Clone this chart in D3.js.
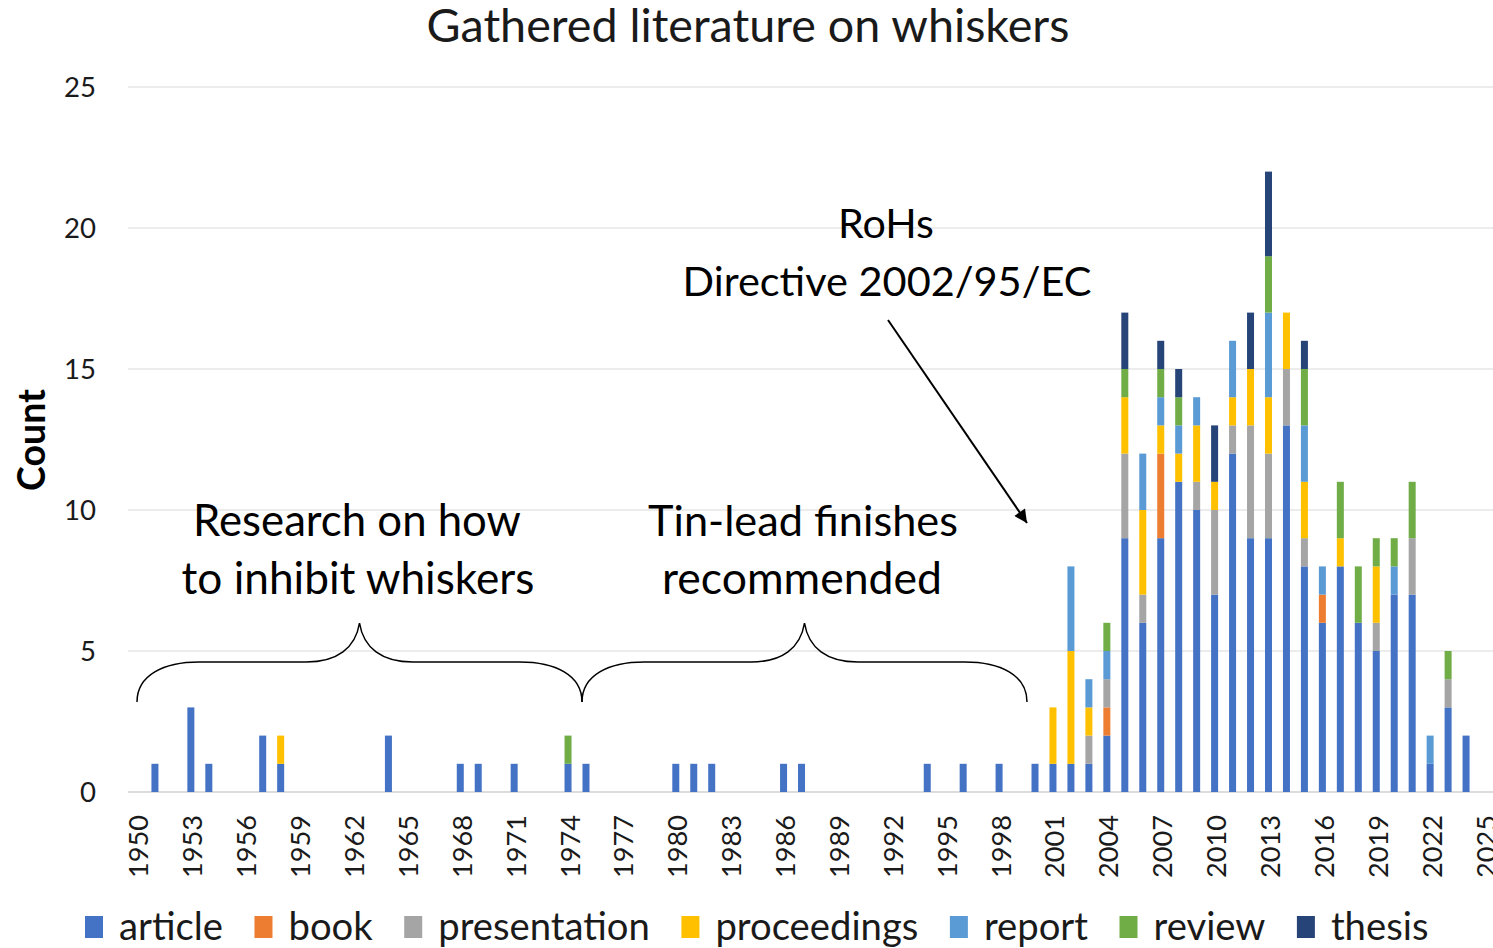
<!DOCTYPE html>
<html>
<head>
<meta charset="utf-8">
<script src="https://cdn.jsdelivr.net/npm/d3@7"></script>
<style>
  html, body { margin: 0; padding: 0; background: #fff; }
  svg { display: block; font-family: Lato, "Open Sans", sans-serif; }
</style>
</head>
<body>
<svg id="chart" width="1493" height="948"></svg>
<script>
// ---- categories ----
const years = d3.range(1950, 2026);
const seriesNames = ["article", "book", "presentation", "proceedings", "report", "review", "thesis"];
const seriesColors = ["#4472C4", "#ED7D31", "#A5A5A5", "#FFC000", "#5B9BD5", "#70AD47", "#264478"];
const yTicks = [0, 5, 10, 15, 20, 25];
const xTickLabels = d3.range(1950, 2026, 3);

// ---- series values (one per year, 1950 ... 2025) ----
const article = [
  0,1,0,3,1,0,0,2,1,0,
  0,0,0,0,2,0,0,0,1,1,
  0,1,0,0,1,1,0,0,0,0,
  1,1,1,0,0,0,1,1,0,0,
  0,0,0,0,1,0,1,0,1,0,
  1,1,1,1,2,9,6,9,11,10,
  7,12,9,9,13,8,6,8,6,5,
  7,7,1,3,2,0];
const book = [
  0,0,0,0,0,0,0,0,0,0,
  0,0,0,0,0,0,0,0,0,0,
  0,0,0,0,0,0,0,0,0,0,
  0,0,0,0,0,0,0,0,0,0,
  0,0,0,0,0,0,0,0,0,0,
  0,0,0,0,1,0,0,3,0,0,
  0,0,0,0,0,0,1,0,0,0,
  0,0,0,0,0,0];
const presentation = [
  0,0,0,0,0,0,0,0,0,0,
  0,0,0,0,0,0,0,0,0,0,
  0,0,0,0,0,0,0,0,0,0,
  0,0,0,0,0,0,0,0,0,0,
  0,0,0,0,0,0,0,0,0,0,
  0,0,0,1,1,3,1,0,0,1,
  3,1,4,3,2,1,0,0,0,1,
  0,2,0,1,0,0];
const proceedings = [
  0,0,0,0,0,0,0,0,1,0,
  0,0,0,0,0,0,0,0,0,0,
  0,0,0,0,0,0,0,0,0,0,
  0,0,0,0,0,0,0,0,0,0,
  0,0,0,0,0,0,0,0,0,0,
  0,2,4,1,0,2,3,1,1,2,
  1,1,2,2,2,2,0,1,0,2,
  0,0,0,0,0,0];
const report = [
  0,0,0,0,0,0,0,0,0,0,
  0,0,0,0,0,0,0,0,0,0,
  0,0,0,0,0,0,0,0,0,0,
  0,0,0,0,0,0,0,0,0,0,
  0,0,0,0,0,0,0,0,0,0,
  0,0,3,1,1,0,2,1,1,1,
  0,2,0,3,0,2,1,0,0,0,
  1,0,1,0,0,0];
const review = [
  0,0,0,0,0,0,0,0,0,0,
  0,0,0,0,0,0,0,0,0,0,
  0,0,0,0,1,0,0,0,0,0,
  0,0,0,0,0,0,0,0,0,0,
  0,0,0,0,0,0,0,0,0,0,
  0,0,0,0,1,1,0,1,1,0,
  0,0,0,2,0,2,0,2,2,1,
  1,2,0,1,0,0];
const thesis = [
  0,0,0,0,0,0,0,0,0,0,
  0,0,0,0,0,0,0,0,0,0,
  0,0,0,0,0,0,0,0,0,0,
  0,0,0,0,0,0,0,0,0,0,
  0,0,0,0,0,0,0,0,0,0,
  0,0,0,0,0,2,0,1,1,0,
  2,0,2,3,0,1,0,0,0,0,
  0,0,0,0,0,0];

const seriesValues = [article, book, presentation, proceedings, report, review, thesis];

// build table for d3.stack
const table = years.map((yr, i) => {
  const row = { year: yr };
  seriesNames.forEach((s, k) => row[s] = seriesValues[k][i]);
  return row;
});

const svg = d3.select("#chart");
const plotL = 128, plotR = 1493, plotT = 87, plotB = 792;

const x = d3.scaleBand().domain(years).range([plotL, plotR]).paddingInner(0.61).paddingOuter(0.305);
const y = d3.scaleLinear().domain([0, 25]).range([plotB, plotT]);
const color = d3.scaleOrdinal().domain(seriesNames).range(seriesColors);

function fit(sel, target) {
  const w = sel.node().getComputedTextLength();
  const fs = parseFloat(sel.style("font-size"));
  sel.style("font-size", (fs * target / w) + "px");
  return fs * target / w;
}

// gridlines
svg.append("g").selectAll("line").data(yTicks).join("line")
  .attr("x1", plotL).attr("x2", plotR)
  .attr("y1", d => y(d)).attr("y2", d => y(d))
  .attr("stroke", d => d === 0 ? "#D0D0D0" : "#D9D9D9")
  .attr("stroke-width", d => d === 0 ? 1.6 : 1.2);

// stacked bars
const stacked = d3.stack().keys(seriesNames)(table);
svg.append("g").selectAll("g").data(stacked).join("g")
  .attr("fill", d => color(d.key))
  .selectAll("rect").data(d => d.filter(v => v[1] - v[0] > 0)).join("rect")
  .attr("x", d => x(d.data.year))
  .attr("width", x.bandwidth())
  .attr("y", d => y(d[1]))
  .attr("height", d => y(d[0]) - y(d[1]));

// y axis labels
const yLab = svg.append("g").selectAll("text").data(yTicks).join("text")
  .attr("x", 96).attr("y", d => y(d)).attr("dy", "0.35em")
  .attr("text-anchor", "end").attr("fill", "#1a1a1a")
  .style("font-size", "28px").text(d => d);
const ySize = fit(d3.select(yLab.nodes()[5]), 32);
yLab.style("font-size", ySize + "px");

// x axis labels
const xLab = svg.append("g").selectAll("text").data(xTickLabels).join("text")
  .attr("transform", d => `translate(${x(d) + x.bandwidth() / 2 + 2},815) rotate(-90)`)
  .attr("dy", "0.35em").attr("text-anchor", "end").attr("fill", "#1a1a1a")
  .style("font-size", "28px").text(d => d);
const xSize = fit(d3.select(xLab.nodes()[0]), 63);
xLab.style("font-size", xSize + "px");

// y axis title
const yt = svg.append("text")
  .attr("transform", "translate(32,440) rotate(-90)")
  .attr("dy", "0.35em").attr("text-anchor", "middle")
  .style("font-weight", "bold").style("font-size", "32px").attr("fill", "#000")
  .text("Count");
fit(yt, 102);

// title
const title = svg.append("text").attr("x", 748).attr("y", 42).attr("text-anchor", "middle")
  .style("font-size", "40px").attr("fill", "#1a1a1a").text("Gathered literature on whiskers");
fit(title, 643);

// annotations text
const notes = [
  { t: "RoHs", cx: 886, by: 238, w: 96 },
  { t: "Directive 2002/95/EC", cx: 887, by: 296, w: 409 },
  { t: "Research on how", cx: 357, by: 536, w: 328 },
  { t: "to inhibit whiskers", cx: 358, by: 594, w: 353 },
  { t: "Tin-lead finishes", cx: 803, by: 536, w: 310 },
  { t: "recommended", cx: 802, by: 594, w: 280 }
];
notes.forEach(n => {
  const s = svg.append("text").attr("x", n.cx).attr("y", n.by).attr("text-anchor", "middle")
    .style("font-size", "40px").attr("fill", "#000").text(n.t);
  fit(s, n.w);
});

// braces
function brace(x0, x1, yEnd, yFlat, yTip) {
  const m = (x0 + x1) / 2;
  const a = (x1 - x0);
  const p = d3.path();
  p.moveTo(x0, yEnd);
  p.bezierCurveTo(x0, yEnd - 27, x0 + a * 0.06, yFlat, x0 + a * 0.14, yFlat);
  p.lineTo(m - a * 0.12, yFlat);
  p.bezierCurveTo(m - a * 0.05, yFlat, m - 4, yFlat - 14, m, yTip);
  p.bezierCurveTo(m + 4, yFlat - 14, m + a * 0.05, yFlat, m + a * 0.12, yFlat);
  p.lineTo(x1 - a * 0.14, yFlat);
  p.bezierCurveTo(x1 - a * 0.06, yFlat, x1, yEnd - 27, x1, yEnd);
  return p.toString();
}
svg.append("path").attr("d", brace(137, 582, 702, 662, 623))
  .attr("fill", "none").attr("stroke", "#000").attr("stroke-width", 1.5);
svg.append("path").attr("d", brace(582, 1027, 702, 662, 623))
  .attr("fill", "none").attr("stroke", "#000").attr("stroke-width", 1.5);

// arrow
svg.append("defs").append("marker").attr("id", "ah")
  .attr("viewBox", "0 0 10 10").attr("refX", 10).attr("refY", 5)
  .attr("markerUnits", "userSpaceOnUse").attr("markerWidth", 17).attr("markerHeight", 13)
  .attr("orient", "auto")
  .append("path").attr("d", "M0,0 L10,5 L0,10 Z").attr("fill", "#000");
svg.append("line").attr("x1", 888).attr("y1", 320).attr("x2", 1027).attr("y2", 523)
  .attr("stroke", "#000").attr("stroke-width", 2).attr("marker-end", "url(#ah)");

// legend
const legend = svg.append("g");
let lx = 85;
let legSize = null;
seriesNames.forEach((s, k) => {
  const t = legend.append("text").attr("x", lx + 34).attr("y", 927).attr("dy", "0.35em")
    .style("font-size", (legSize || 38) + "px").attr("fill", "#1a1a1a").text(s);
  if (legSize === null) legSize = fit(t, 104);
  legend.append("rect").attr("x", lx).attr("y", 916).attr("width", 18).attr("height", 22)
    .attr("fill", seriesColors[k]);
  lx = lx + 34 + t.node().getComputedTextLength() + 31.5;
});
</script>
</body>
</html>
